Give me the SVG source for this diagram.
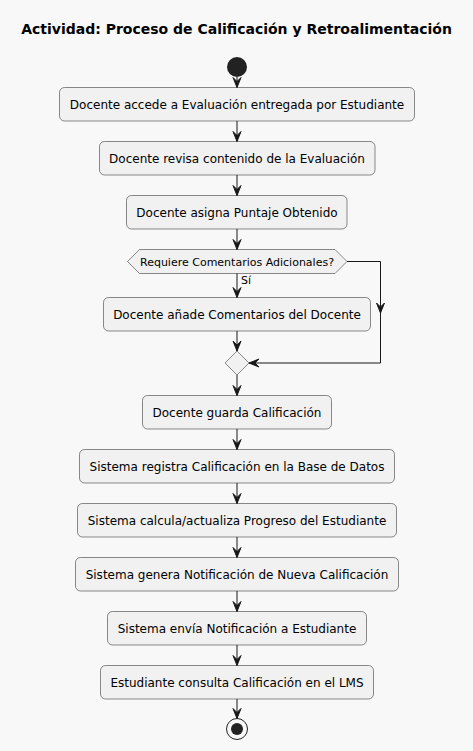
<svg xmlns="http://www.w3.org/2000/svg" width="473" height="751" viewBox="0 0 473 751">
<defs>
<style>
.box{fill:#F1F1F1;stroke:#181818;stroke-width:0.5}
.t{font-family:"DejaVu Sans",sans-serif;font-size:12px;fill:#000;text-anchor:middle}
.s{font-family:"DejaVu Sans",sans-serif;font-size:11px;fill:#000}
.ln{fill:none;stroke:#181818;stroke-width:1}
.ah{fill:#181818;stroke:#181818;stroke-width:1}
</style>
</defs>
<rect width="473" height="751" fill="#F8F8F8"/>
<text x="236.5" y="34" style="font-family:'DejaVu Sans',sans-serif;font-size:14px;font-weight:bold;text-anchor:middle">Actividad: Proceso de Calificación y Retroalimentación</text>
<g id="start"><circle cx="237" cy="67" r="10" fill="#222222"/></g>
<g id="n1"><rect class="box" x="59.5" y="87.5" width="355" height="33.5" rx="5"/><text class="t" x="237" y="108.5">Docente accede a Evaluación entregada por Estudiante</text></g>
<g id="n2"><rect class="box" x="99.5" y="141.5" width="275.5" height="33.5" rx="5"/><text class="t" x="237" y="162.5">Docente revisa contenido de la Evaluación</text></g>
<g id="n3"><rect class="box" x="126.5" y="195.5" width="220.5" height="33.5" rx="5"/><text class="t" x="237" y="216.5">Docente asigna Puntaje Obtenido</text></g>
<g id="d1"><polygon class="box" points="127.5,261.5 139.5,249.5 335,249.5 347,261.5 335,273.5 139.5,273.5"/><text class="s" x="237" y="265.5" text-anchor="middle">Requiere Comentarios Adicionales?</text></g>
<g id="n4"><rect class="box" x="103.5" y="297.5" width="267" height="33.5" rx="5"/><text class="t" x="237" y="318.5">Docente añade Comentarios del Docente</text></g>
<g id="m1"><polygon class="box" points="237,351 249,363 237,375 225,363"/></g>
<g id="n5"><rect class="box" x="142.5" y="395.5" width="189" height="33.5" rx="5"/><text class="t" x="237" y="416.5">Docente guarda Calificación</text></g>
<g id="n6"><rect class="box" x="79.5" y="449.5" width="315" height="33.5" rx="5"/><text class="t" x="237" y="470.5">Sistema registra Calificación en la Base de Datos</text></g>
<g id="n7"><rect class="box" x="77.5" y="503.5" width="319" height="33.5" rx="5"/><text class="t" x="237" y="524.5">Sistema calcula/actualiza Progreso del Estudiante</text></g>
<g id="n8"><rect class="box" x="75.5" y="557.5" width="323" height="33.5" rx="5"/><text class="t" x="237" y="578.5">Sistema genera Notificación de Nueva Calificación</text></g>
<g id="n9"><rect class="box" x="107.5" y="611.5" width="259" height="33.5" rx="5"/><text class="t" x="237" y="632.5">Sistema envía Notificación a Estudiante</text></g>
<g id="n10"><rect class="box" x="100.5" y="665.5" width="273" height="33.5" rx="5"/><text class="t" x="237" y="686.5">Estudiante consulta Calificación en el LMS</text></g>
<g id="end"><circle cx="237" cy="729" r="10.5" fill="none" stroke="#222222" stroke-width="1"/><circle cx="237" cy="729" r="6" fill="#222222"/></g>
<g id="connectors">
<path class="ln" d="M237,77 V87.5"/><polygon class="ah" points="233,77.5 237,87.5 241,77.5 237,81.5"/>
<path class="ln" d="M237,121 V141.5"/><polygon class="ah" points="233,131.5 237,141.5 241,131.5 237,135.5"/>
<path class="ln" d="M237,175 V195.5"/><polygon class="ah" points="233,185.5 237,195.5 241,185.5 237,189.5"/>
<path class="ln" d="M237,229 V249.5"/><polygon class="ah" points="233,239.5 237,249.5 241,239.5 237,243.5"/>
<path class="ln" d="M237,273.5 V297.5"/><polygon class="ah" points="233,287.5 237,297.5 241,287.5 237,291.5"/>
<text class="s" x="241" y="284">Sí</text>
<path class="ln" d="M237,331 V351"/><polygon class="ah" points="233,341 237,351 241,341 237,345"/>
<path class="ln" d="M347,261.5 H380.5 V363 H249"/>
<polygon class="ah" points="376.5,303 380.5,313 384.5,303 380.5,307"/>
<polygon class="ah" points="259,359 249,363 259,367 255,363"/>
<path class="ln" d="M237,375 V395.5"/><polygon class="ah" points="233,385.5 237,395.5 241,385.5 237,389.5"/>
<path class="ln" d="M237,429 V449.5"/><polygon class="ah" points="233,439.5 237,449.5 241,439.5 237,443.5"/>
<path class="ln" d="M237,483 V503.5"/><polygon class="ah" points="233,493.5 237,503.5 241,493.5 237,497.5"/>
<path class="ln" d="M237,537 V557.5"/><polygon class="ah" points="233,547.5 237,557.5 241,547.5 237,551.5"/>
<path class="ln" d="M237,591 V611.5"/><polygon class="ah" points="233,601.5 237,611.5 241,601.5 237,605.5"/>
<path class="ln" d="M237,645 V665.5"/><polygon class="ah" points="233,655.5 237,665.5 241,655.5 237,659.5"/>
<path class="ln" d="M237,699 V718.5"/><polygon class="ah" points="233,708.5 237,718.5 241,708.5 237,712.5"/>
</g>
</svg>
